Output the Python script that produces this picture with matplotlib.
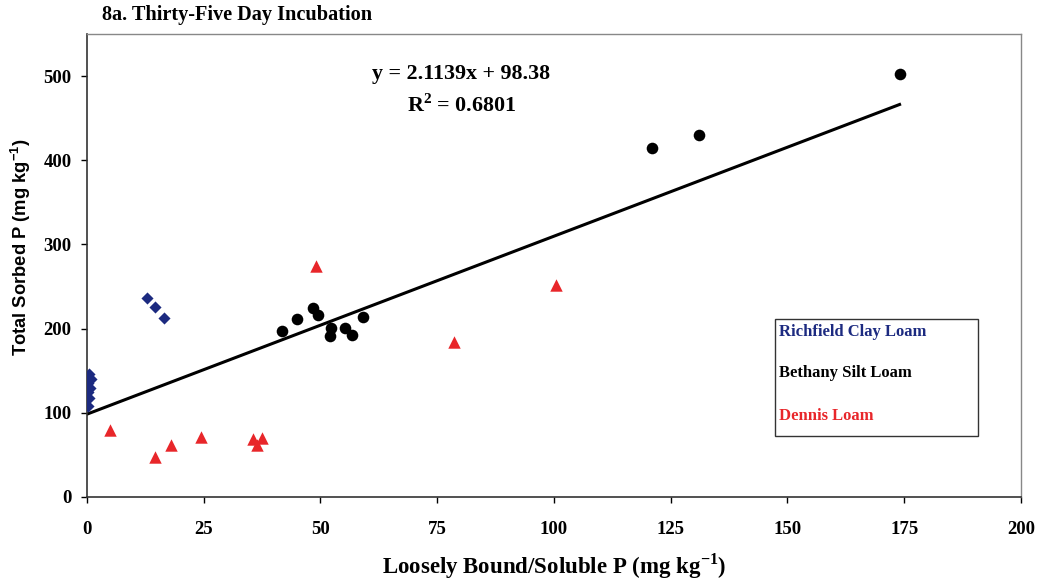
import matplotlib.pyplot as plt
import numpy as np
from matplotlib.patches import Rectangle

# Richfield Clay Loam
rich_x = [0.2, 0.4, 0.3, 0.6, 0.2, 0.8, 0.5, 12.8, 14.6, 16.5]
rich_y = [108, 118, 125, 130, 135, 140, 146, 236, 226, 212]

# Bethany Silt Loam
beth_x = [41.7, 44.9, 48.4, 49.5, 52.2, 52.0, 55.2, 56.7, 59.0, 121.0, 131.0, 174.0]
beth_y = [197, 211, 224, 216, 201, 191, 201, 192, 214, 415, 430, 502]

# Dennis Loam
denn_x = [5.0, 14.5, 18.0, 24.5, 35.5, 36.5, 37.5, 49.0, 78.5, 100.5]
denn_y = [80, 48, 62, 71, 69, 62, 70, 274, 184, 252]

slope, intercept, r2 = 2.1139, 98.38, 0.6801
fit_x = np.array([0.0, 174.0])

SERIF = "Liberation Serif"
SANS = "Liberation Sans"
BLUE = "#1c2a80"
RED = "#e8262a"

fig = plt.figure(figsize=(10.43, 5.81), dpi=100)
ax = fig.add_axes([0.0834, 0.1446, 0.8955, 0.797])

ax.plot(fit_x, slope * fit_x + intercept, color="black", lw=2.2, zorder=2)
ax.scatter(rich_x, rich_y, marker="D", s=38, color=BLUE, zorder=3, linewidths=0)
ax.scatter(beth_x, beth_y, marker="o", s=70, color="black", zorder=3, linewidths=0)
ax.scatter(denn_x, denn_y, marker="^", s=80, color=RED, zorder=3, linewidths=0)

ax.set_xlim(0, 200)
ax.set_ylim(0, 550)
ax.set_xticks(np.arange(0, 201, 25))
ax.set_yticks(np.arange(0, 501, 100))
ax.tick_params(direction="out", length=4, width=1, pad=7)
for lab in ax.get_xticklabels() + ax.get_yticklabels():
    lab.set_fontfamily(SERIF)
    lab.set_fontweight("bold")
    lab.set_fontsize(13.5)
ax.tick_params(axis="x", pad=13)

for side in ["left", "bottom"]:
    ax.spines[side].set_color("#333333")
    ax.spines[side].set_linewidth(1.2)
for side in ["top", "right"]:
    ax.spines[side].set_color("#888888")
    ax.spines[side].set_linewidth(1.0)

ax.set_xlabel("Loosely Bound/Soluble P (mg kg$^{\\mathregular{-1}}$)",
              fontfamily=SERIF, fontweight="bold", fontsize=16.5)
ax.xaxis.set_label_coords(0.5, -0.149)
ax.xaxis.label.set_verticalalignment("center")

ax.set_ylabel("Total Sorbed P (mg kg$^{\\mathregular{-1}}$)",
              fontfamily=SANS, fontweight="bold", fontsize=13.2)
ax.yaxis.set_label_coords(-0.0707, 0.54)
ax.yaxis.label.set_verticalalignment("center")

fig.text(102 / 1043, 1 - 15 / 581, "8a. Thirty-Five Day Incubation",
         fontfamily=SERIF, fontweight="bold", fontsize=14.6, ha="left", va="center")

ax.text(0.401, 0.913, f"y = {slope}x + {intercept}",
        transform=ax.transAxes, ha="center", va="center",
        fontfamily=SERIF, fontweight="bold", fontsize=15.8)
ax.text(0.401, 0.845, f"R$^{{\\mathregular{{2}}}}$ = {r2}",
        transform=ax.transAxes, ha="center", va="center",
        fontfamily=SERIF, fontweight="bold", fontsize=15.8)

# text-only legend box
ax.add_patch(Rectangle((0.7366, 0.1317), 0.2174, 0.2528, transform=ax.transAxes,
                       facecolor="white", edgecolor="#333333", lw=1.0, zorder=4))
for ypos, name, col in [(0.356, "Richfield Clay Loam", BLUE),
                        (0.268, "Bethany Silt Loam", "black"),
                        (0.175, "Dennis Loam", RED)]:
    ax.text(0.741, ypos, name, transform=ax.transAxes, ha="left", va="center",
            color=col, fontfamily=SERIF, fontweight="bold", fontsize=12, zorder=5)

fig.savefig("out.png", dpi=100)
